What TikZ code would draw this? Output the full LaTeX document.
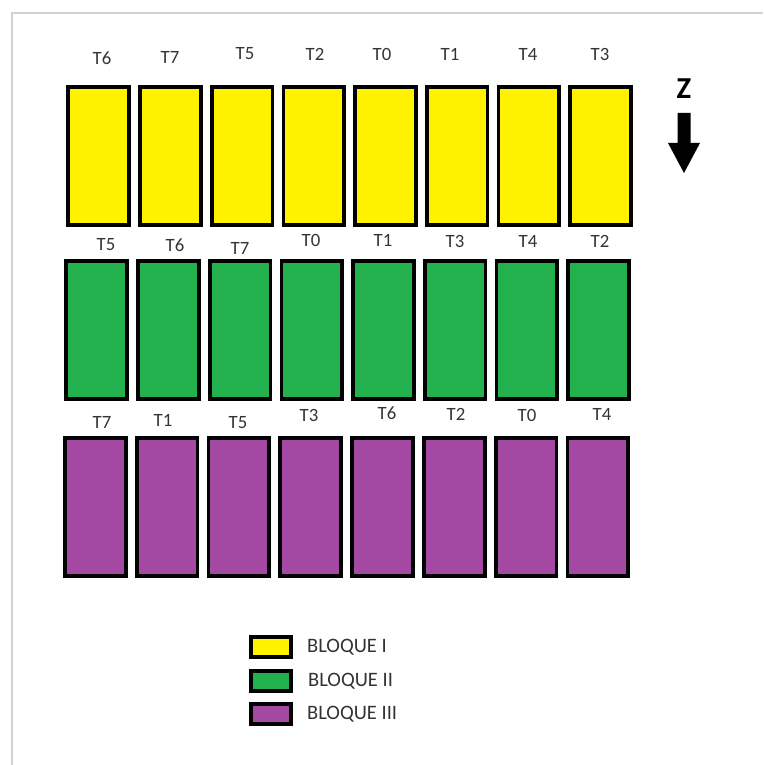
\documentclass[tikz,border=0pt]{standalone}
\usepackage{fontspec}
\setmainfont{Carlito}
\usetikzlibrary{positioning}
\definecolor{bloqueA}{HTML}{FFF200}
\definecolor{bloqueB}{HTML}{22B14C}
\definecolor{bloqueC}{HTML}{A349A4}
\definecolor{texto}{HTML}{333333}
\tikzset{
	parcela/.style={draw=black, line width=3.2pt, minimum width=1.82cm, minimum height=4.15cm, inner sep=0pt},
	etiqueta/.style={text=texto, font=\fontsize{16}{16}\selectfont, inner sep=0pt},
	leyenda/.style={draw=black, line width=3.2pt, minimum width=1.2cm, minimum height=0.6cm, inner sep=0pt},
}
\begin{document}
\begin{tikzpicture}[x=0.03cm, y=-0.03cm]
		\useasboundingbox (0,0) rectangle (763,765);
		\draw[line width=1.5pt, black!18] (12,765) -- (12,13) -- (763,13);
		% bloque I
		\foreach \t/\x/\yt [count=\i] in {T6/102/58, T7/170/57, T5/245/54, T2/315/54, T0/382/54, T1/450/54, T4/528/54, T3/600/54}{
			\node[parcela, fill=bloqueA] (a\i) at ({27+71.7*\i}, 156) {};
			\node[etiqueta] (la\i) at (\x,\yt) {\t};
		}
		% bloque II
		\foreach \t/\x/\yt [count=\i] in {T5/106/245, T6/175/245, T7/240/248, T0/311/240, T1/383/240, T3/455/241, T4/528/241, T2/600/241}{
			\node[parcela, fill=bloqueB] (b\i) at ({25+71.7*\i}, 330) {};
			\node[etiqueta] (lb\i) at (\x,\yt) {\t};
		}
		% bloque III
		\foreach \t/\x/\yt [count=\i] in {T7/102/422, T1/163/420, T5/238/423, T3/309/415, T6/387/413, T2/456/414, T0/527/415, T4/602/414}{
			\node[parcela, fill=bloqueC] (c\i) at ({23.5+71.8*\i}, 507) {};
			\node[etiqueta] (lc\i) at (\x,\yt) {\t};
		}
		% norte
		\node[font=\bfseries\fontsize{26}{26}\selectfont, inner sep=0pt] (norte) at (684,89) {Z};
		\fill (677.5,113) -- (690.5,113) -- (690.5,143) -- (700,143) -- (684,173)
			-- (668,143) -- (677.5,143) -- cycle;
		% leyenda
		\node[leyenda, fill=bloqueA] (ley1) at (271,647) {};
		\node[leyenda, fill=bloqueB] (ley2) at (271,681) {};
		\node[leyenda, fill=bloqueC] (ley3) at (271,714) {};
		\node[etiqueta, font=\fontsize{17.5}{17.5}\selectfont, right=0.42cm of ley1] {BLOQUE I};
		\node[etiqueta, font=\fontsize{17.5}{17.5}\selectfont, right=0.45cm of ley2] {BLOQUE II};
		\node[etiqueta, font=\fontsize{17.5}{17.5}\selectfont, right=0.42cm of ley3] {BLOQUE III};
	\end{tikzpicture}
\end{document}
